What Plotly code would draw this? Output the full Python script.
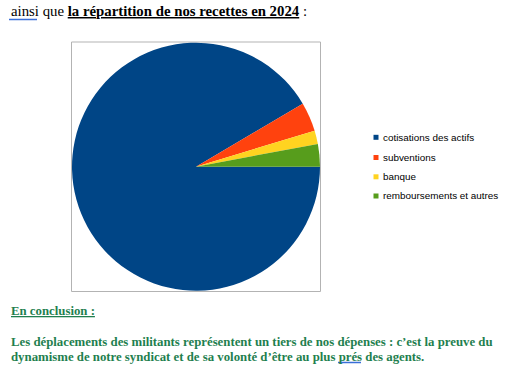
import plotly.graph_objects as go

categories = ["cotisations des actifs", "subventions", "banque", "remboursements et autres"]
values = [91.5, 3.8, 1.75, 2.95]
colors = ["#004586", "#ff420e", "#ffd320", "#579d1c"]

W, H = 518, 375

def px_x(x):
    return x / W

def px_y(y):
    return 1 - y / H

fig = go.Figure()
fig.add_trace(go.Pie(
    labels=categories,
    values=values,
    marker=dict(colors=colors, line=dict(width=0)),
    sort=False,
    direction="clockwise",
    rotation=90,
    textinfo="none",
    hoverinfo="label+percent",
    showlegend=False,
    domain=dict(x=[px_x(72), px_x(320)], y=[px_y(291.5), px_y(42)]),
))

serif = "Liberation Serif"
green = "#1f7f4f"

annotations = [
    dict(x=px_x(9), y=px_y(11), xanchor="left", yanchor="middle",
         text="ainsi que <b><u>la répartition de nos recettes en 2024</u></b> :",
         font=dict(family=serif, size=14.8, color="#000000")),
    dict(x=px_x(9), y=px_y(311), xanchor="left", yanchor="middle",
         text="<b><u>En conclusion :</u></b>",
         font=dict(family=serif, size=12.8, color=green)),
    dict(x=px_x(9), y=px_y(342), xanchor="left", yanchor="middle",
         text="<b>Les déplacements des militants représentent un tiers de nos dépenses : c’est la preuve du</b>",
         font=dict(family=serif, size=12.8, color=green)),
    dict(x=px_x(9), y=px_y(357), xanchor="left", yanchor="middle",
         text="<b>dynamisme de notre syndicat et de sa volonté d’être au plus prés des agents.</b>",
         font=dict(family=serif, size=12.8, color=green)),
]

shapes = [
    dict(type="rect", xref="paper", yref="paper",
         x0=px_x(71.5), x1=px_x(320.5), y0=px_y(291.5), y1=px_y(42),
         line=dict(color="#b3b3b3", width=1), layer="below"),
    dict(type="line", xref="paper", yref="paper",
         x0=px_x(9), x1=px_x(37), y0=px_y(19.5), y1=px_y(19.5),
         line=dict(color="#3a6fd8", width=1.5)),
    dict(type="line", xref="paper", yref="paper",
         x0=px_x(338), x1=px_x(361), y0=px_y(362.5), y1=px_y(362.5),
         line=dict(color="#3a6fd8", width=1.5)),
]

# legend drawn as small squares + labels
legend_rows = [137.3, 157.5, 176.8, 196.0]
for cat, col, yy in zip(categories, colors, legend_rows):
    shapes.append(dict(type="rect", xref="paper", yref="paper",
                       x0=px_x(373.5), x1=px_x(378.5), y0=px_y(yy + 2.5), y1=px_y(yy - 2.5),
                       fillcolor=col, line=dict(width=0)))
    annotations.append(dict(x=px_x(380.5), y=px_y(yy), xanchor="left", yanchor="middle",
                            text=cat, font=dict(family="Liberation Sans", size=9.9, color="#000000")))

for a in annotations:
    a.update(xref="paper", yref="paper", showarrow=False, align="left")

fig.update_layout(
    width=W, height=H,
    margin=dict(l=0, r=0, t=0, b=0),
    paper_bgcolor="white",
    plot_bgcolor="white",
    showlegend=False,
    annotations=annotations,
    shapes=shapes,
)

fig.write_html("out.html", config={"displayModeBar": False},
               post_script="document.body.style.margin='0';document.body.style.overflow='hidden';")
